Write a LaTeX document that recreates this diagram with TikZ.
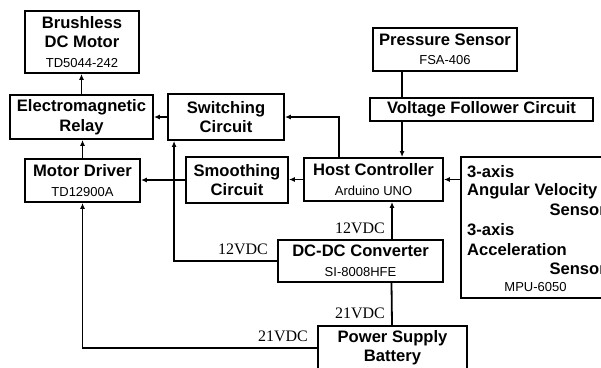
\documentclass[tikz,border=0pt]{standalone}
\usepackage{fontspec}
\setmainfont{Liberation Sans}
\newfontfamily\myserif{Liberation Serif}
\usetikzlibrary{arrows.meta}
\newcommand\mytitlefont{\fontsize{16.6}{19.5}\selectfont\bfseries}
\newcommand\mysubfont{\fontsize{13}{16}\selectfont\mdseries}
\begin{document}
\begin{tikzpicture}[x=1pt,y=-1pt,
  box/.style={draw,line width=1.9pt,inner sep=0pt,align=center,font=\mytitlefont},
  conn/.style={line width=1.8pt},
  arr/.style={line width=1.8pt,-{Latex[length=6pt,width=5pt]}},
  vlabel/.style={font=\myserif\fontsize{16}{18}\selectfont,inner sep=0pt},
  imutext/.style={font=\mytitlefont,inner sep=0pt}]
\useasboundingbox (0,0) rectangle (601,367);
\clip (0,0) rectangle (601,367);

\node[box,minimum width=114pt,minimum height=62pt] (motor) at (82,42) {Brushless\\DC Motor\\{\mysubfont TD5044-242}};
\node[box,minimum width=143pt,minimum height=44pt] (relay) at (81.5,117) {Electromagnetic\\Relay};
\node[box,minimum width=116pt,minimum height=46pt] (switch) at (226,117) {Switching\\Circuit};
\node[box,minimum width=115pt,minimum height=43pt] (driver) at (82.5,180.5) {Motor Driver\\{\mysubfont TD12900A}};
\node[box,minimum width=102pt,minimum height=46pt] (smooth) at (237,180) {Smoothing\\Circuit};
\node[box,minimum width=139pt,minimum height=43pt] (host) at (373.5,179.5) {Host Controller\\{\mysubfont Arduino UNO}};
\node[box,minimum width=144pt,minimum height=43pt] (pressure) at (445,49.5) {Pressure Sensor\\{\mysubfont FSA-406}};
\node[box,minimum width=223pt,minimum height=23pt] (vf) at (481.5,109.5) {Voltage Follower Circuit};
\node[box,minimum width=158pt,minimum height=141pt] (imu) at (540,227.5) {};
\node[box,minimum width=165pt,minimum height=42pt] (dcdc) at (360.5,261) {DC-DC Converter\\{\mysubfont SI-8008HFE}};
\node[box,minimum width=149pt,minimum height=43pt] (power) at (392.5,347.5) {Power Supply\\Battery};

\node[imutext,anchor=west] (i1) at (467,172) {3-axis};
\node[imutext,anchor=west] (i2) at (467,191) {Angular Velocity};
\node[imutext,anchor=east] (i3) at (606,210) {Sensor};
\node[imutext,anchor=west] (i4) at (467,230) {3-axis};
\node[imutext,anchor=west] (i5) at (467,250) {Acceleration};
\node[imutext,anchor=east] (i6) at (606,269) {Sensor};
\node[font=\mysubfont,inner sep=0pt] (i7) at (535.5,287) {MPU-6050};

\node[vlabel] (l1) at (360,228) {12VDC};
\node[vlabel] (l2) at (243,249) {12VDC};
\node[vlabel] (l3) at (360,313) {21VDC};
\node[vlabel] (l4) at (283,336) {21VDC};

\draw[arr] (relay.north) -- (relay.north |- motor.south);
\draw[arr] (driver.north) -- (driver.north |- relay.south);
\draw[arr] (switch.west) -- (switch.west -| relay.east);
\draw[arr] ([xshift=36pt]host.north west) |- (switch.east);
\draw[arr] (host.west) -- (host.west -| smooth.east);
\draw[arr] (smooth.west) -- (smooth.west -| driver.east);
\draw[conn] ([xshift=30pt]pressure.south west) -- ([xshift=30pt]pressure.south west |- vf.north);
\draw[arr] ([xshift=33pt]vf.south west) -- ([xshift=33pt]vf.south west |- host.north);
\draw[arr] (imu.west |- host.east) -- (host.east);
\draw[arr] ([xshift=31.5pt]dcdc.north) -- ([xshift=18.5pt]host.south);
\draw[arr] (dcdc.west) -| ([xshift=7pt]switch.south west);
\draw[conn] ([xshift=-0.5pt]power.north) -- ([xshift=31pt]dcdc.south);
\draw[arr] ([yshift=-23pt]power.north west) -| (driver.south);
\end{tikzpicture}
\end{document}
